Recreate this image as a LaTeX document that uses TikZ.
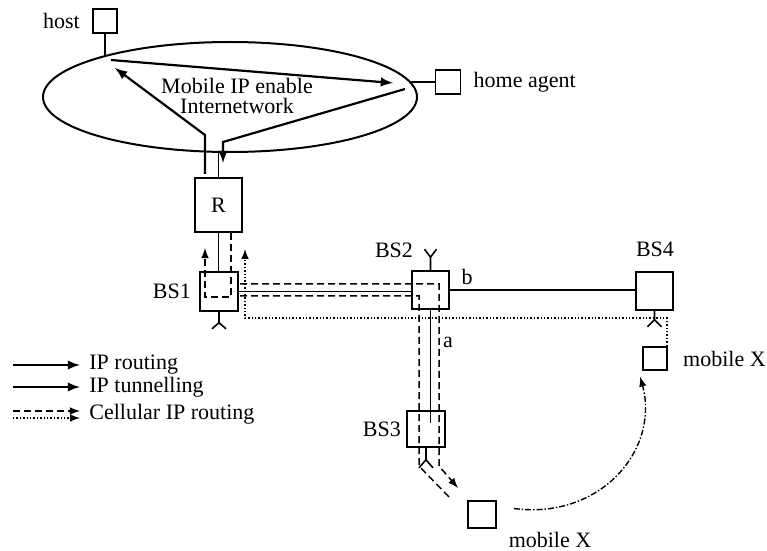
\documentclass[tikz,border=0pt]{standalone}
\usepackage{fontspec}
\setmainfont{Liberation Serif}
\usetikzlibrary{shapes.geometric, arrows, positioning}

\begin{document}
\begin{tikzpicture}[x=0.5pt, y=-0.5pt, font=\fontsize{11}{12}\selectfont,
  box/.style={draw, line width=0.8pt, inner sep=0pt},
  lbl/.style={inner sep=1pt},
  link/.style={line width=0.8pt},
  iproute/.style={line width=1.1pt, -latex},
  cellroute/.style={line width=0.75pt, dash pattern=on 3.5pt off 2pt},
  cellsig/.style={line width=0.7pt, densely dotted},
  move/.style={line width=0.7pt, densely dashdotted, -latex}]
  \useasboundingbox (0,0) rectangle (767,551);

  % internetwork
  \node[ellipse, draw, line width=1pt, minimum width=187pt, minimum height=55pt] (net) at (230,97) {};
  \node[align=center, inner sep=0pt, font=\fontsize{11}{10}\selectfont] (netlbl) at (237,96) {Mobile IP enable\\Internetwork};

  \node[box, minimum size=12pt] (host) at (105,21) {};
  \node[lbl, left=5pt of host] (hostlbl) {host};
  \node[box, minimum width=12.5pt, minimum height=12pt] (ha) at (448,82) {};
  \node[lbl, right=5pt of ha] (halbl) {home agent};

  \draw[link] (host.south) -- ++(0,23);
  \draw[link] (ha.west) -- ++(-26,0);
  \draw[iproute] (111,60) -- (393,83);
  \draw[iproute] (205,174) -- (205,135) -- (115,68);
  \draw[iproute] (405,89) -- (223,142) -- (223,163);

  % router and base stations
  \node[box, minimum width=23.5pt, minimum height=27pt] (R) at (218.5,205) {R};
  \node[box, minimum width=19pt, minimum height=19.5pt] (BS1) at (219,291.5) {};
  \node[box, minimum width=18.5pt, minimum height=19pt] (BS2) at (430.5,290) {};
  \node[box, minimum width=19pt, minimum height=18pt] (BS3) at (426,429) {};
  \node[box, minimum width=18.5pt, minimum height=19pt] (BS4) at (654.5,291) {};
  \node[box, minimum width=12pt, minimum height=11.5pt] (mx1) at (655,358.5) {};
  \node[box, minimum width=14pt, minimum height=13.5pt] (mx2) at (482,514.5) {};

  \node[lbl, left=3pt of BS1] (bs1lbl) {BS1};
  \node[lbl] (bs2lbl) at (394,250) {BS2};
  \node[lbl, left=1.5pt of BS3] (bs3lbl) {BS3};
  \node[lbl] (bs4lbl) at (655,249) {BS4};
  \node[lbl] (blbl) at (467,277) {b};
  \node[lbl] (albl) at (448,342) {a};
  \node[lbl, right=6.5pt of mx1] (mx1lbl) {mobile X};
  \node[lbl] (mx2lbl) at (550,540) {mobile X};

  \draw[link] (R.north) -- (R.north |- net.south);
  \draw[link] (R.south) -- (R.south |- BS1.north);
  \draw[link] (BS1.east) -- (BS1.east -| BS2.west);
  \draw[link] (BS2.east) -- (BS2.east -| BS4.west);
  \draw[link] (BS2.south) -- ++(0,113);

  % antennas
  \draw[link] (BS2.north) -- ++(0,-13) -- ++(-6,-8) ++(6,8) -- ++(6,-8);
  \draw[link] (BS1.south) -- ++(0,11) -- ++(-7,6) ++(7,-6) -- ++(7,6);
  \draw[link] (BS4.south) -- ++(0,9) -- ++(-7,7) ++(7,-7) -- ++(7,7);
  \draw[link] (BS3.south) -- ++(0,12) -- ++(-7,8) ++(7,-8) -- ++(7,8);

  % cellular routes
  \draw[cellroute, -latex] (231,233) -- (231,297) -- (205,297) -- (205,248);
  \draw[cellroute, -latex] (240,284) -- (439,284) -- (439,466) -- (458,488);
  \draw[cellroute] (240,296) -- (419,296) -- (419,466) -- (450,498);
  \draw[cellsig, -latex] (667,346) -- (667,318) -- (245,318) -- (245,249);

  % handoff
  \draw[move] ([shift={(17,-6)}]mx2.east) .. controls (600,520) and (660,450) .. ([shift={(-2,6)}]mx1.south west);

  % legend
  \node[lbl, anchor=west] (lgroute) at (87,365) {IP routing};
  \node[lbl, anchor=west] (lgtun) at (87,387) {IP tunnelling};
  \node[lbl, anchor=west] (lgcell) at (87,414) {Cellular IP routing};
  \draw[iproute] ([xshift=-37pt]lgroute.west) -- ([xshift=-3.5pt]lgroute.west);
  \draw[iproute] ([xshift=-37pt]lgtun.west) -- ([xshift=-3.5pt]lgtun.west);
  \draw[cellroute, -latex] ([shift={(-74,-3)}]lgcell.west) -- ([shift={(-7,-3)}]lgcell.west);
  \draw[cellsig, -latex] ([shift={(-74,4)}]lgcell.west) -- ([shift={(-7,4)}]lgcell.west);
\end{tikzpicture}
\end{document}
